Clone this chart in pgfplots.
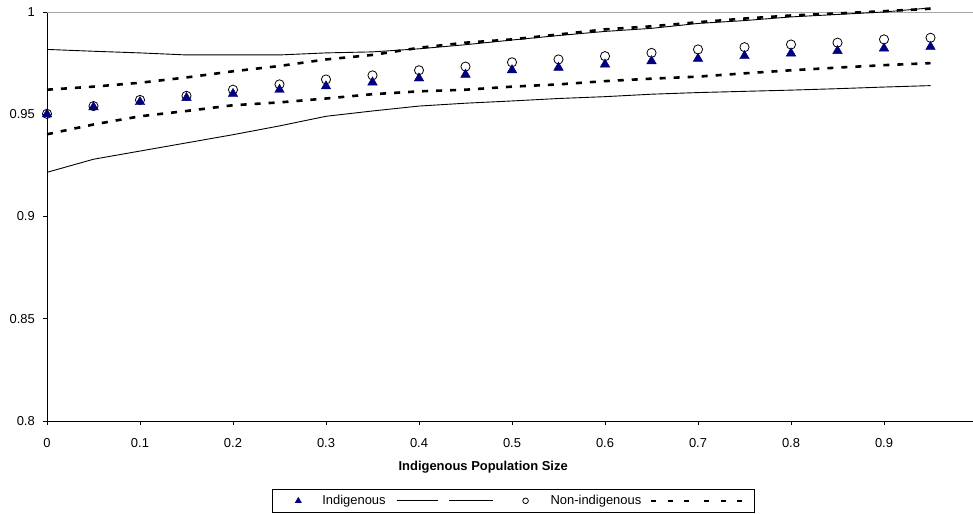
\documentclass[border=0pt]{standalone}
\usepackage{fontspec}
\setmainfont{Liberation Sans}
\usepackage{pgfplots}
\usepackage{pgfplotstable}
\pgfplotsset{compat=1.18}
\definecolor{navy}{RGB}{0,0,128}

% x, point estimates and interval bounds for both groups
\pgfplotstableread{
x     ind     non     indU    indL    nonU    nonL
0.00  0.9500  0.9502  0.9817  0.9216  0.9620  0.9402
0.05  0.9535  0.9540  0.9808  0.9280  0.9635  0.9450
0.10  0.9560  0.9570  0.9800  0.9320  0.9654  0.9490
0.15  0.9580  0.9590  0.9790  0.9360  0.9680  0.9516
0.20  0.9600  0.9620  0.9790  0.9400  0.9710  0.9544
0.25  0.9620  0.9646  0.9790  0.9443  0.9736  0.9558
0.30  0.9637  0.9670  0.9800  0.9490  0.9768  0.9577
0.35  0.9656  0.9690  0.9805  0.9516  0.9790  0.9598
0.40  0.9676  0.9715  0.9820  0.9540  0.9825  0.9612
0.45  0.9694  0.9733  0.9840  0.9554  0.9850  0.9620
0.50  0.9716  0.9754  0.9863  0.9565  0.9866  0.9635
0.55  0.9728  0.9768  0.9885  0.9577  0.9890  0.9646
0.60  0.9744  0.9784  0.9905  0.9586  0.9915  0.9662
0.65  0.9760  0.9800  0.9920  0.9598  0.9930  0.9674
0.70  0.9772  0.9817  0.9944  0.9606  0.9950  0.9684
0.75  0.9785  0.9828  0.9958  0.9612  0.9968  0.9700
0.80  0.9798  0.9841  0.9976  0.9618  0.9983  0.9715
0.85  0.9810  0.9850  0.9988  0.9625  0.9993  0.9728
0.90  0.9822  0.9866  1.0000  0.9633  1.0004  0.9740
0.95  0.9830  0.9874  1.0020  0.9640  1.0016  0.9750
}\results

\tikzset{
  dashedci/.style={black, line width=2.6bp, dash pattern=on 6bp off 8bp},
  solidci/.style={black, line width=0.9bp},
}

\begin{document}
\begin{tikzpicture}
\begin{axis}[
  scale only axis, width=926bp, height=409bp,
  xmin=0, xmax=0.9957, ymin=0.8, ymax=1,
  clip=false,
  axis x line*=bottom, axis y line*=left,
  axis line style={black, line width=0.9bp},
  xtick={0,0.1,0.2,0.3,0.4,0.5,0.6,0.7,0.8,0.9},
  ytick={0.8,0.85,0.9,0.95,1},
  tick align=outside, major tick length=4bp,
  tick style={black, line width=0.9bp},
  /pgf/number format/assume math mode=true,
  /pgf/number format/fixed, /pgf/number format/precision=2,
  ticklabel style={font=\fontsize{13}{15}\selectfont, inner sep=0pt},
  xticklabel style={anchor=north, yshift=-13bp},
  yticklabel style={anchor=east, xshift=-8bp},
  xlabel={\bfseries Indigenous Population Size},
  xlabel style={at={(axis description cs:0.471,-0.1222)}, anchor=base,
                font=\fontsize{13}{15}\selectfont, inner sep=0pt},
  legend columns=-1,
  legend style={at={(0.2430,-0.1663)}, anchor=north west,
                draw=black, line width=0.6bp, inner sep=0pt,
                column sep=0pt, row sep=0pt,
                nodes={inner sep=0pt, draw=none},
                font=\fontsize{13}{15}\selectfont},
]
\draw[gray!70, line width=0.9bp] (rel axis cs:0,1) -- (rel axis cs:1,1);

% interval bounds
\addplot[solidci, forget plot] table[x=x, y=indU] {\results};
\addplot[solidci, forget plot] table[x=x, y=indL] {\results};
\addplot[dashedci, forget plot] table[x=x, y=nonU] {\results};
\addplot[dashedci, forget plot] table[x=x, y=nonL] {\results};
% point estimates
\addplot[only marks, mark=o, mark size=4.6bp, mark options={black, line width=0.8bp}, forget plot]
  table[x=x, y=non] {\results};
\addplot[only marks, mark=triangle*, mark size=5.5bp, mark options={navy, fill=navy}, forget plot]
  table[x=x, y=ind] {\results};

% legend
\addlegendimage{legend image code/.code={
  \path[draw=none] (0bp,-11.5bp) rectangle (50bp,11.5bp);
  \fill[navy, draw=none] (26bp,0bp) +(90:4bp) -- +(210:4bp) -- +(330:4bp) -- cycle;}}
\addlegendentry{Indigenous}
\addlegendimage{legend image code/.code={
  \path[draw=none] (0bp,-11.5bp) rectangle (62bp,11.5bp);
  \draw[solidci] (11bp,0bp) -- (52bp,0bp);}}
\addlegendentry{}
\addlegendimage{legend image code/.code={
  \path[draw=none] (0bp,-11.5bp) rectangle (44bp,11.5bp);
  \draw[solidci] (0bp,0bp) -- (44bp,0bp);}}
\addlegendentry{}
\addlegendimage{legend image code/.code={
  \path[draw=none] (0bp,-11.5bp) rectangle (56bp,11.5bp);
  \draw[black, line width=0.8bp] (31bp,0bp) circle (2.8bp);}}
\addlegendentry{Non-indigenous}
\addlegendimage{legend image code/.code={
  \path[draw=none] (0bp,-11.5bp) rectangle (54bp,11.5bp);
  \draw[black, line width=2.6bp, dash pattern=on 5bp off 11.5bp] (10bp,0bp) -- (54bp,0bp);}}
\addlegendentry{}
\addlegendimage{legend image code/.code={
  \path[draw=none] (0bp,-11.5bp) rectangle (54bp,11.5bp);
  \draw[black, line width=2.6bp, dash pattern=on 5bp off 11.5bp, dash phase=-5.5bp] (0bp,0bp) -- (44bp,0bp);}}
\addlegendentry{}
\end{axis}
\pgfresetboundingbox
\path[use as bounding box] ([shift={(-47bp,-93bp)}]current axis.south west)
  rectangle ([shift={(0bp,12bp)}]current axis.north east);
\end{tikzpicture}
\end{document}
